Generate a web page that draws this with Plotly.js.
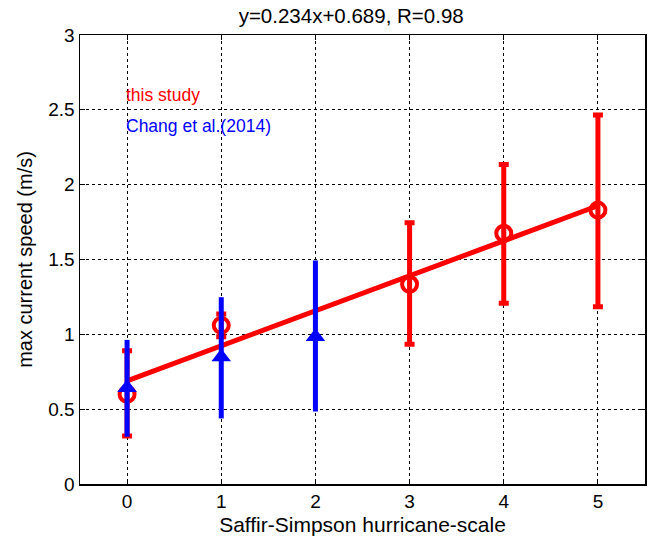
<!DOCTYPE html>
<html>
<head>
<meta charset="utf-8">
<script src="https://cdn.plot.ly/plotly-3.0.1.min.js"></script>
<style>html,body{margin:0;padding:0;background:#fff;}#chart{width:653px;height:539px;}</style>
</head>
<body>
<div id="chart"></div>
<script>
// this study
const studyX = [0, 1, 3, 4, 5];
const studyY = [0.60, 1.06, 1.334, 1.675, 1.83];
const studyErrPlus = [0.29, 0.076, 0.411, 0.46, 0.635];
const studyErrMinus = [0.28, 0.076, 0.401, 0.468, 0.646];
// Chang et al. (2014)
const changX = [0, 1, 2];
const changY = [0.643, 0.848, 0.984];
const changErrPlus = [0.32, 0.40, 0.51];
const changErrMinus = [0.327, 0.41, 0.50];
// linear fit y = 0.234x + 0.689
const fitSlope = 0.234;
const fitIntercept = 0.689;
const fitX = [0, 5];
const fitY = fitX.map(x => fitSlope * x + fitIntercept);
const xTicks = [0, 1, 2, 3, 4, 5];
const yTicks = [0, 0.5, 1, 1.5, 2, 2.5, 3];

const font = "Liberation Sans, Arial, Helvetica, sans-serif";

const traces = [
  {x: fitX, y: fitY, mode: 'lines', line: {color: 'rgb(255,0,0)', width: 5}, hoverinfo: 'skip'},
  {x: studyX, y: studyY, mode: 'markers',
   marker: {symbol: 'circle-open', size: 15, color: 'rgb(255,0,0)', line: {width: 4, color: 'rgb(255,0,0)'}},
   error_y: {type: 'data', symmetric: false, array: studyErrPlus, arrayminus: studyErrMinus,
             color: 'rgb(255,0,0)', thickness: 5, width: 5}},
  {x: changX, y: changY, mode: 'markers',
   marker: {symbol: 'triangle-up', size: 17, color: 'rgb(0,0,255)'},
   error_y: {type: 'data', symmetric: false, array: changErrPlus, arrayminus: changErrMinus,
             color: 'rgb(0,0,255)', thickness: 5, width: 0}}
];

const layout = {
  width: 653, height: 539,
  margin: {l: 80, r: 8, t: 35, b: 55},
  paper_bgcolor: '#fff', plot_bgcolor: '#fff',
  showlegend: false,
  font: {family: font, size: 18, color: '#000'},
  title: {text: 'y=0.234x+0.689, R=0.98', font: {family: font, size: 20.5, color: '#000'}, x: 0.48, xref: 'paper', xanchor: 'center', y: 0.97, yanchor: 'middle'},
  xaxis: {
    range: [-0.5, 5.5], tickvals: xTicks, ticktext: xTicks.map(String),
    showgrid: true, gridcolor: '#000', griddash: 'dot', gridwidth: 1,
    zeroline: false, showline: true, linecolor: '#000', linewidth: 1.5, mirror: 'ticks',
    ticks: 'inside', ticklen: 5, tickcolor: '#000',
    tickfont: {family: font, size: 19},
    title: {text: 'Saffir-Simpson hurricane-scale', font: {family: font, size: 21}, standoff: 6}
  },
  yaxis: {
    range: [0, 3], tickvals: yTicks, ticktext: yTicks.map(String),
    showgrid: true, gridcolor: '#000', griddash: 'dot', gridwidth: 1,
    zeroline: false, showline: true, linecolor: '#000', linewidth: 1.5, mirror: 'ticks',
    ticks: 'inside', ticklen: 5, tickcolor: '#000',
    tickfont: {family: font, size: 19},
    title: {text: 'max current speed (m/s)', font: {family: font, size: 20}, standoff: 10}
  },
  annotations: [
    {x: 0, y: 2.6, xref: 'x', yref: 'y', text: 'this study', showarrow: false, xanchor: 'left', yanchor: 'middle', xshift: -3,
     font: {family: font, size: 17.5, color: 'rgb(255,0,0)'}},
    {x: 0, y: 2.39, xref: 'x', yref: 'y', text: 'Chang et al.(2014)', showarrow: false, xanchor: 'left', yanchor: 'middle', xshift: -3,
     font: {family: font, size: 17.5, color: 'rgb(0,0,255)'}}
  ]
};

Plotly.newPlot('chart', traces, layout, {staticPlot: true, displayModeBar: false});
</script>
</body>
</html>
